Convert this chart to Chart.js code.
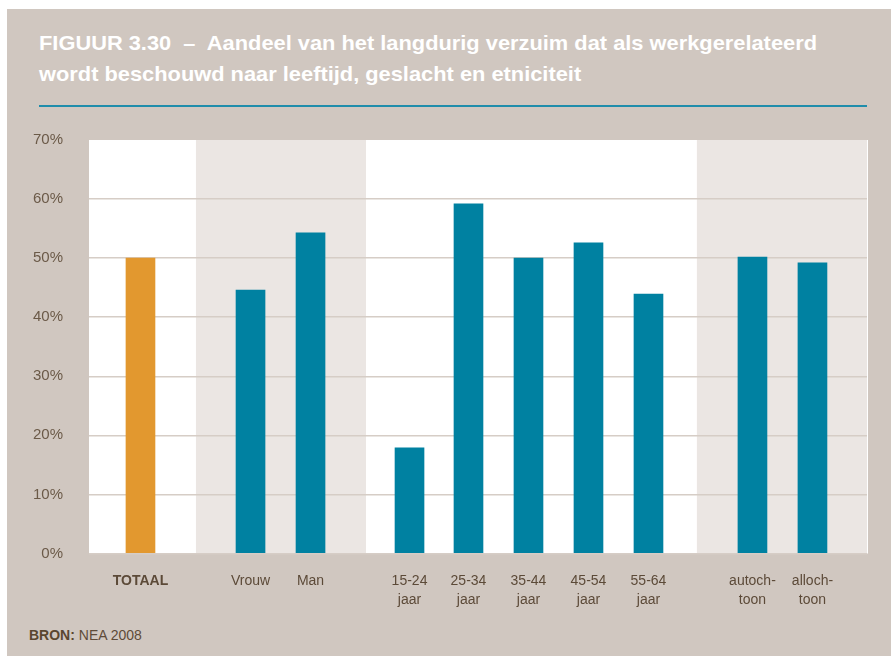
<!DOCTYPE html>
<html>
<head>
<meta charset="utf-8">
<script src="https://cdn.jsdelivr.net/npm/chart.js@4.4.1/dist/chart.umd.min.js"></script>
<style>
  html, body { margin: 0; padding: 0; background: #ffffff; }
  body { width: 891px; height: 656px; position: relative; overflow: hidden; }
  #frame { position: absolute; left: 7px; top: 9px; right: 0; bottom: 0; background: #d0c7c0; }
  #title { position: absolute; left: 39px; top: 27px; color: #ffffff; font-family: 'Liberation Sans', Arial, sans-serif;
           font-weight: bold; font-size: 21px; line-height: 31px; white-space: nowrap; transform-origin: 0 0; }
  #rule { position: absolute; left: 39px; top: 105px; width: 828px; height: 1.5px; background: #1f8dab; }
  #source { position: absolute; left: 29px; top: 627px; font-family: 'Liberation Sans', Arial, sans-serif; font-size: 14px;
            line-height: 16px; color: #5e4b38; white-space: nowrap; }
  #source b { color: #5a4630; }
  canvas { position: absolute; left: 0; top: 0; }
</style>
</head>
<body>
<div id="frame"></div>
<div id="title"><span id="t1">FIGUUR 3.30 &nbsp;–&nbsp; Aandeel van het langdurig verzuim dat als werkgerelateerd</span><br><span id="t2">wordt beschouwd naar leeftijd, geslacht en etniciteit</span></div>
<div id="rule"></div>
<div id="source"><b>BRON:</b> NEA 2008</div>
<canvas id="c" width="891" height="656"></canvas>
<script>
// ---- data ----
const categories = ['TOTAAL', 'Vrouw', 'Man', '15-24 jaar', '25-34 jaar', '35-44 jaar', '45-54 jaar', '55-64 jaar', 'autochtoon', 'allochtoon'];
const tickLabels = [['TOTAAL'], ['Vrouw'], ['Man'], ['15-24', 'jaar'], ['25-34', 'jaar'], ['35-44', 'jaar'], ['45-54', 'jaar'], ['55-64', 'jaar'], ['autoch-', 'toon'], ['alloch-', 'toon']];
const values = [50.0, 44.6, 54.3, 17.9, 59.2, 50.0, 52.6, 43.9, 50.2, 49.2];
// category positions along the x axis (grouped layout, in slot units)
const categoryPositions = [0.858, 2.692, 3.692, 5.342, 6.325, 7.325, 8.325, 9.325, 11.058, 12.058];
const xMax = 12.967;
// background bands per group (slot units)
const bandEdges = [0, 1.783, 4.617, 10.133, 12.967];
const bandColors = ['#ffffff', '#ebe6e3', '#ffffff', '#ebe6e3'];
const yTicks = [0, 10, 20, 30, 40, 50, 60, 70];
const barColors = ['#e2982f', '#0081a1', '#0081a1', '#0081a1', '#0081a1', '#0081a1', '#0081a1', '#0081a1', '#0081a1', '#0081a1'];

// fit title width
(function () {
  const t1 = document.getElementById('t1');
  const w = t1.getBoundingClientRect().width;
  const s = 778 / w;
  document.getElementById('title').style.transform = 'scaleX(' + s + ')';
})();

const bandPlugin = {
  id: 'bands',
  beforeDraw(chart) {
    const { ctx, chartArea } = chart;
    const xs = chart.scales.x;
    ctx.save();
    for (let i = 0; i < bandColors.length; i++) {
      const x0 = xs.getPixelForValue(bandEdges[i]);
      const x1 = xs.getPixelForValue(bandEdges[i + 1]);
      ctx.fillStyle = bandColors[i];
      ctx.fillRect(x0, chartArea.top, x1 - x0, chartArea.bottom - chartArea.top);
    }
    ctx.fillStyle = '#ffffff';
    ctx.fillRect(chartArea.right, chartArea.top, 1, chartArea.bottom - chartArea.top);
    ctx.restore();
  }
};

new Chart(document.getElementById('c'), {
  type: 'bar',
  data: {
    datasets: [{
      data: categoryPositions.map((x, i) => ({ x: x, y: values[i] })),
      backgroundColor: barColors,
      borderWidth: 0,
      barThickness: 29
    }]
  },
  options: {
    responsive: false,
    animation: false,
    layout: { padding: { top: 140, right: 24, left: 0, bottom: 0 } },
    plugins: { legend: { display: false }, tooltip: { enabled: false }, title: { display: false } },
    scales: {
      x: {
        type: 'linear',
        min: 0,
        max: xMax,
        offset: false,
        afterBuildTicks: (s) => { s.ticks = categoryPositions.map(v => ({ value: v })); },
        afterFit: (s) => { s.height = 102.5; },
        grid: { display: false, drawTicks: false },
        border: { display: false },
        ticks: {
          autoSkip: false,
          maxRotation: 0,
          padding: 19,
          color: '#5c4a38',
          callback: (v, i) => tickLabels[i],
          font: (ctx) => ({ family: "'Liberation Sans', Arial, sans-serif", size: 14, lineHeight: 1.3, weight: ctx.index === 0 ? 'bold' : 'normal' })
        }
      },
      y: {
        min: 0,
        max: 70,
        afterBuildTicks: (s) => { s.ticks = yTicks.map(v => ({ value: v })); },
        afterFit: (s) => { s.width = 89; },
        grid: {
          drawTicks: false,
          lineWidth: 1.5,
          color: (ctx) => (ctx.tick && ctx.tick.value === 70) ? 'rgba(0,0,0,0)' : '#d6cdc6'
        },
        border: { display: false },
        ticks: {
          padding: 26,
          color: '#6b5a48',
          font: { family: "'Liberation Sans', Arial, sans-serif", size: 15 },
          callback: (v) => v + '%'
        }
      }
    }
  },
  plugins: [bandPlugin]
});
</script>
</body>
</html>
